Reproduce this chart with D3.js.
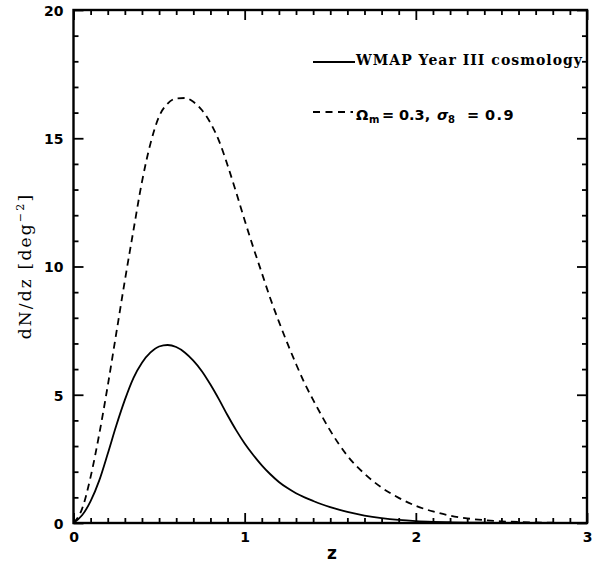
<!DOCTYPE html>
<html><head><meta charset="utf-8">
<script src="https://cdn.jsdelivr.net/npm/d3@7"></script>
<style>body{margin:0;background:#fff}</style>
</head><body>
<svg id="c" width="595" height="564"></svg>
<script>
const zValues = [0,0.05,0.1,0.15,0.2,0.25,0.3,0.35,0.4,0.45,0.5,0.55,0.6,0.65,0.7,0.75,0.8,0.85,0.9,0.95,1.0,1.05,1.1,1.15,1.2,1.25,1.3,1.35,1.4,1.45,1.5,1.55,1.6,1.7,1.8,1.9,2.0,2.1,2.2,2.3,2.4,2.5,2.6,2.7,2.8,3.0];
const wmapValues = [0,0.3,0.85,1.65,2.7,3.8,4.8,5.65,6.25,6.65,6.88,6.94,6.86,6.65,6.33,5.92,5.4,4.82,4.2,3.62,3.1,2.65,2.25,1.9,1.6,1.36,1.16,1.0,0.86,0.73,0.62,0.52,0.43,0.29,0.19,0.12,0.075,0.047,0.029,0.018,0.011,0.007,0.004,0.002,0.001,0];
const om03Values = [0,0.55,1.8,3.45,5.35,7.4,9.45,11.4,13.3,14.8,15.85,16.35,16.55,16.57,16.42,16.1,15.6,14.9,13.95,12.9,11.8,10.75,9.75,8.75,7.85,7.0,6.2,5.45,4.8,4.18,3.6,3.08,2.62,1.92,1.38,0.98,0.67,0.45,0.29,0.18,0.11,0.065,0.038,0.021,0.011,0];
const xTicks = [0,1,2,3];
const yTicks = [0,5,10,15,20];
const xMinor = d3.range(0,3.0001,0.1).filter(v=>Math.abs(v-Math.round(v))>1e-6);
const yMinor = d3.range(0,20.0001,1).filter(v=>v%5!==0);
const legendLabels = ["WMAP Year III cosmology", "Ω", "m", "=", "0.3,", "σ", "8", "=", "0.9"];

const svg = d3.select("#c");
const L=73.5, R=587, T=10, B=523;
const x = d3.scaleLinear().domain([0,3]).range([L,R]);
const y = d3.scaleLinear().domain([0,20]).range([B,T]);

function axis(gen, tr, vals, size, labels){
  const g = svg.append("g").attr("transform", tr)
    .call(gen.tickValues(vals).tickSize(size).tickSizeOuter(0).tickFormat(labels ? d3.format("d") : ""));
  g.select(".domain").remove();
  g.selectAll(".tick line").attr("stroke","#000").attr("stroke-width",1.8);
  g.selectAll(".tick text").attr("font-family","DejaVu Sans, sans-serif").attr("font-weight","bold").attr("font-size",14).attr("fill","#000");
  return g;
}
const gb = axis(d3.axisBottom(x), `translate(0,${B})`, xTicks, -10, true);
gb.selectAll(".tick text").attr("y",19).attr("dy","0");
axis(d3.axisBottom(x), `translate(0,${B})`, xMinor, -5, false);
axis(d3.axisTop(x), `translate(0,${T})`, xTicks, -10, false);
axis(d3.axisTop(x), `translate(0,${T})`, xMinor, -5, false);
const gl = axis(d3.axisLeft(y), `translate(${L},0)`, yTicks, -10, true);
gl.selectAll(".tick text").attr("x",-10).attr("dy","0.38em");
axis(d3.axisLeft(y), `translate(${L},0)`, yMinor, -5, false);
axis(d3.axisRight(y), `translate(${R},0)`, yTicks, -10, false);
axis(d3.axisRight(y), `translate(${R},0)`, yMinor, -5, false);

svg.append("rect").attr("x",L).attr("y",T).attr("width",R-L).attr("height",B-T)
  .attr("fill","none").attr("stroke","#000").attr("stroke-width",2.4);

const line = d3.line().x((d,i)=>x(zValues[i])).y(d=>y(d)).curve(d3.curveMonotoneX);
svg.append("path").attr("d", line(wmapValues)).attr("fill","none").attr("stroke","#000").attr("stroke-width",1.8);
svg.append("path").attr("d", line(om03Values)).attr("fill","none").attr("stroke","#000").attr("stroke-width",1.8).attr("stroke-dasharray","7,5");

// legend
svg.append("line").attr("x1",313).attr("x2",355).attr("y1",62).attr("y2",62).attr("stroke","#000").attr("stroke-width",1.8);
svg.append("text").attr("x",356).attr("y",64.5).attr("font-family","DejaVu Serif, serif").attr("font-weight","bold")
  .attr("font-size",14).attr("textLength",226).attr("lengthAdjust","spacing").text(legendLabels[0]);
svg.append("line").attr("x1",313).attr("x2",353).attr("y1",112).attr("y2",112).attr("stroke","#000").attr("stroke-width",1.8).attr("stroke-dasharray","7,5.5");
const lg2 = svg.append("g").attr("font-family","DejaVu Sans, sans-serif").attr("font-weight","bold").attr("font-size",14.5);
lg2.append("text").attr("x",356).attr("y",120).text(legendLabels[1]);
lg2.append("text").attr("x",369).attr("y",123).attr("font-size",10).text(legendLabels[2]);
lg2.append("text").attr("x",382).attr("y",120).text(legendLabels[3]);
lg2.append("text").attr("x",399).attr("y",120).text(legendLabels[4]);
lg2.append("text").attr("x",437).attr("y",120).attr("font-style","italic").text(legendLabels[5]);
lg2.append("text").attr("x",448).attr("y",123).attr("font-size",10).text(legendLabels[6]);
lg2.append("text").attr("x",467).attr("y",120).text(legendLabels[7]);
lg2.append("text").attr("x",485).attr("y",120).attr("letter-spacing",1.5).text(legendLabels[8]);

// axis labels
svg.append("text").attr("x",332).attr("y",559).attr("text-anchor","middle")
  .attr("font-family","DejaVu Sans, sans-serif").attr("font-weight","bold").attr("font-size",17).text("z");
const yl = svg.append("text").attr("transform","translate(31,266) rotate(-90)").attr("text-anchor","middle")
  .attr("font-family","DejaVu Serif, serif").attr("font-size",17).attr("letter-spacing",2.2);
yl.append("tspan").text("dN/dz [deg");
yl.append("tspan").attr("font-size",11).attr("dy",-7).text("−2");
yl.append("tspan").attr("dy",7).text("]");
</script>
</body></html>
